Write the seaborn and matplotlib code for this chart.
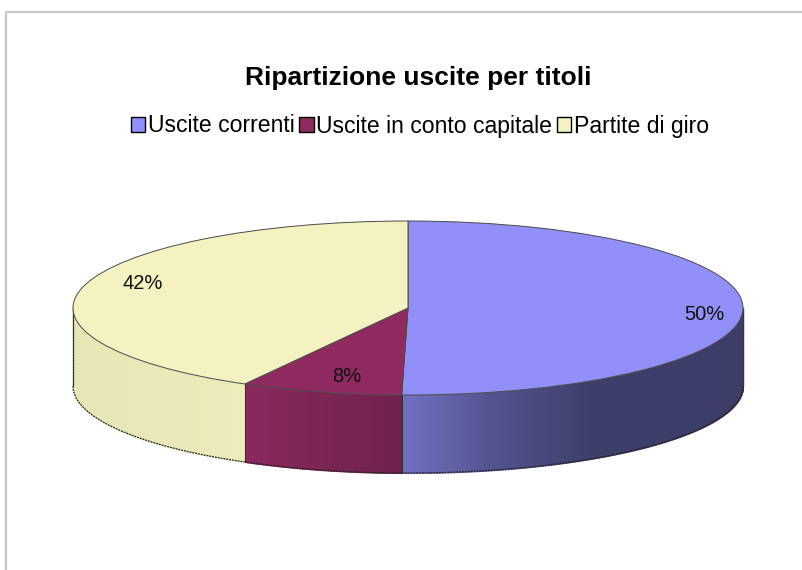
import numpy as np
import matplotlib
matplotlib.use("Agg")
import matplotlib.pyplot as plt
from matplotlib.lines import Line2D
from matplotlib.patches import Patch
import seaborn as sns

title = "Ripartizione uscite per titoli"
categories = ["Uscite correnti", "Uscite in conto capitale", "Partite di giro"]
values = [50.3, 7.8, 41.9]
colors = sns.color_palette(["#9090f8", "#8e2a60", "#f3f2c0"])

W, H = 803, 570
CX, CY, RX, RY, DEPTH = 408, 308, 335, 87, 78

sns.set_theme(style="white")
plt.rcParams["font.family"] = ["Liberation Sans", "DejaVu Sans"]

fig = plt.figure(figsize=(W / 100, H / 100), dpi=100, facecolor="white")
ax = fig.add_axes([0, 0, 1, 1])

# top face of the pie
wedges, _, autotexts = ax.pie(
    values, colors=colors, startangle=90, counterclock=False,
    autopct="%.0f%%", pctdistance=0.85,
    wedgeprops=dict(edgecolor="#4a4a4a", linewidth=0.7, zorder=3),
    textprops=dict(fontsize=14.5, color="#111111", zorder=5),
)
ax.set_aspect("auto")
ax.set_xlim(-CX / RX, (W - CX) / RX)
ax.set_ylim(-(H - CY) / RY, CY / RY)
ax.axis("off")

# nudges of the percent labels towards where the reference puts them
for txt, (dx, dy) in zip(autotexts, [(0.035, -0.07), (0.04, 0.03), (0.03, 0.07)]):
    x, y = txt.get_position()
    txt.set_position((x + dx, y + dy))

# shaded side wall, computed from the same values
depth = DEPTH / RY
shade_x = [-1.0, -0.5, -0.02, 0.25, 0.55, 1.0]
shade_f = [0.95, 0.97, 0.79, 0.58, 0.43, 0.42]
edges = 90 - 360 * np.concatenate([[0], np.cumsum(values)]) / np.sum(values)
for i, color in enumerate(colors):
    hi, lo = min(edges[i], 0), max(edges[i + 1], -180)
    if hi <= lo:
        continue
    angles = np.radians(np.linspace(lo, hi, int((hi - lo) * 2) + 2))
    for a0, a1 in zip(angles[:-1], angles[1:]):
        xs = np.cos([a0, a1])
        ys = np.sin([a0, a1])
        f = np.interp(xs.mean(), shade_x, shade_f)
        c = tuple(np.array(color) * f)
        ax.fill_between(xs, ys, ys - depth, color=c, linewidth=0.8,
                        antialiased=False, zorder=1)
    ang = np.radians(np.linspace(lo, hi, 200))
    ax.plot(np.cos(ang), np.sin(ang) - depth, color="#222222", lw=0.9,
            ls=(0, (1.5, 0.8)), zorder=2)
    ax.plot(np.cos(ang[0]) * np.array([1, 1]),
            np.sin(ang[0]) + np.array([0, -depth]),
            color="#333333", lw=0.8, zorder=2)

# left edge of the wall
ax.plot([-1, -1], [0, -depth], color="#333333", lw=0.9, ls=(0, (1.5, 0.8)), zorder=2)
ax.plot([1, 1], [0, -depth], color="#333333", lw=0.9, ls=(0, (1.5, 0.8)), zorder=2)

fig.text(418 / W, 1 - 78 / H, title, ha="center", va="center",
         fontsize=19, fontweight="bold", color="black")

handles = [Patch(facecolor=c, edgecolor="black", linewidth=1.0) for c in colors]
fig.legend(handles, categories, ncol=3, frameon=False, loc="center",
           bbox_to_anchor=(420 / W, 1 - 126 / H), fontsize=16.6,
           handlelength=0.62, handleheight=0.62, handletextpad=0.12,
           columnspacing=0.19, borderpad=0, labelcolor="black")

# chart frame (left and top only, the crop cuts the rest)
fig.add_artist(Line2D([6 / W, 6 / W, 1], [0, 1 - 12 / H, 1 - 12 / H],
                      transform=fig.transFigure, color="#c8c8c8", lw=1.6))

fig.savefig("out.png", dpi=100, facecolor="white")
